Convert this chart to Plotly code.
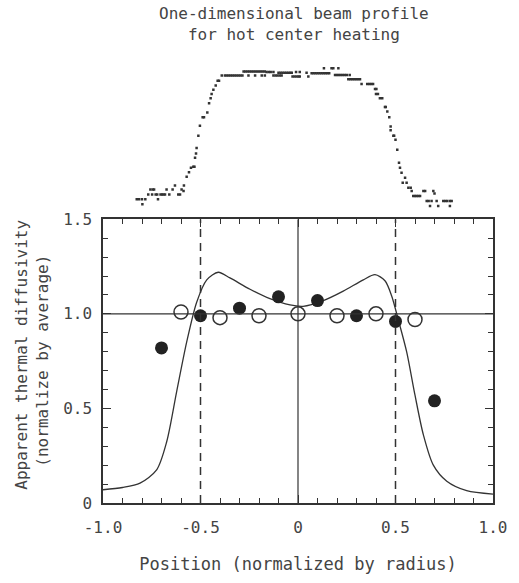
import plotly.graph_objects as go

# ---- data ----
CURVE_X = [-1.0, -0.9, -0.81, -0.725, -0.673, -0.622, -0.571, -0.52, -0.468, -0.409,
           -0.349, -0.246, -0.144, -0.041, 0.026, 0.13, 0.232, 0.335, 0.395, 0.446,
           0.48, 0.514, 0.557, 0.6, 0.643, 0.694, 0.763, 0.865, 1.0]
CURVE_Y = [0.07, 0.082, 0.105, 0.175, 0.325, 0.59, 0.85, 1.06, 1.18, 1.22,
           1.19, 1.13, 1.08, 1.047, 1.04, 1.07, 1.12, 1.18, 1.207, 1.175,
           1.096, 0.97, 0.8, 0.57, 0.36, 0.2, 0.115, 0.065, 0.047]

FILLED_X = [-0.7, -0.5, -0.3, -0.1, 0.1, 0.3, 0.5, 0.7]
FILLED_Y = [0.82, 0.99, 1.03, 1.09, 1.07, 0.99, 0.96, 0.54]

OPEN_X = [-0.6, -0.4, -0.2, 0.0, 0.2, 0.4, 0.6]
OPEN_Y = [1.01, 0.98, 0.99, 1.0, 0.99, 1.0, 0.97]

PROFILE_X = [
    -0.827, -0.815, -0.800, -0.783, -0.798, -0.768, -0.757, -0.745, -0.738, -0.748,
    -0.730, -0.722, -0.718, -0.705, -0.697, -0.690, -0.682, -0.674, -0.660, -0.643,
    -0.631, -0.614, -0.605, -0.597, -0.585, -0.587,
    -0.571, -0.559, -0.549, -0.537, -0.531, -0.528, -0.523, -0.520, -0.511, -0.503,
    -0.489, -0.482, -0.465, -0.456, -0.448, -0.443, -0.434, -0.422, -0.412, -0.405,
    -0.391,
    -0.375, -0.365, -0.355, -0.345, -0.335, -0.325, -0.315, -0.305, -0.295, -0.285,
    -0.254, -0.220, -0.186, -0.170, -0.126, -0.115, -0.105, -0.094, -0.084, -0.028,
    -0.018, -0.008, 0.002, 0.009, 0.053,
    -0.279, -0.270, -0.260, -0.250, -0.240, -0.230, -0.220, -0.210, -0.200, -0.190,
    -0.180, -0.170, -0.161, -0.150, -0.140, -0.126, -0.100, -0.090, -0.080, -0.070,
    -0.060, -0.050, -0.040, -0.032, -0.010, 0.009, 0.044,
    0.070, 0.080, 0.090, 0.100, 0.110, 0.120, 0.130, 0.140, 0.150, 0.160,
    0.133, 0.172, 0.181, 0.207,
    0.190, 0.200, 0.210, 0.220, 0.230, 0.240, 0.250, 0.265,
    0.258, 0.268, 0.278, 0.288, 0.298, 0.308, 0.318,
    0.326, 0.355, 0.365, 0.375, 0.385,
    0.395, 0.402, 0.400, 0.410, 0.420, 0.432, 0.446, 0.450, 0.458, 0.468,
    0.475, 0.475, 0.489, 0.493, 0.500, 0.509, 0.518, 0.523, 0.531, 0.549,
    0.537, 0.557, 0.566, 0.578,
    0.583, 0.643, 0.652, 0.694,
    0.591, 0.600, 0.608, 0.617, 0.626,
    0.660, 0.670, 0.685, 0.711, 0.745, 0.755, 0.765, 0.779, 0.788,
    0.700, 0.677, 0.719, 0.779,
]
PROFILE_I = [
    0.037, 0.037, 0.037, 0.037, 0.000, 0.074, 0.111, 0.111, 0.111, 0.074,
    0.074, 0.074, 0.037, 0.074, 0.074, 0.074, 0.074, 0.111, 0.074, 0.111,
    0.141, 0.074, 0.074, 0.111, 0.141, 0.100,
    0.205, 0.239, 0.272, 0.279, 0.279, 0.346, 0.378, 0.420, 0.511, 0.585,
    0.649, 0.649, 0.684, 0.753, 0.790, 0.822, 0.852, 0.884, 0.919, 0.919,
    0.958,
    0.958, 0.958, 0.958, 0.958, 0.958, 0.958, 0.958, 0.958, 0.958, 0.958,
    0.958, 0.958, 0.958, 0.958, 0.958, 0.958, 0.958, 0.958, 0.958, 0.952,
    0.952, 0.952, 0.952, 0.952, 0.952,
    0.988, 0.988, 0.988, 0.988, 0.988, 0.988, 0.988, 0.988, 0.988, 0.988,
    0.988, 0.988, 0.985, 0.985, 0.985, 0.985, 0.980, 0.980, 0.980, 0.980,
    0.980, 0.980, 0.980, 0.980, 0.985, 0.985, 0.980,
    0.975, 0.975, 0.975, 0.975, 0.975, 0.975, 0.975, 0.975, 0.975, 0.975,
    1.012, 1.012, 1.012, 1.012,
    0.963, 0.963, 0.963, 0.963, 0.963, 0.963, 0.963, 0.963,
    0.931, 0.931, 0.931, 0.931, 0.931, 0.931, 0.931,
    0.896, 0.896, 0.896, 0.896, 0.896,
    0.859, 0.859, 0.822, 0.822, 0.790, 0.790, 0.724, 0.724, 0.691, 0.649,
    0.580, 0.551, 0.511, 0.511, 0.481, 0.407, 0.309, 0.272, 0.235, 0.198,
    0.160, 0.160, 0.123, 0.123,
    0.099, 0.099, 0.099, 0.099,
    0.062, 0.062, 0.062, 0.062, 0.062,
    0.025, 0.025, 0.025, 0.025, 0.025, 0.025, 0.025, 0.025, 0.025,
    0.080, -0.012, -0.012, -0.012,
]

X_LABEL_ALIAS = {"−1.0": "-1.0", "−0.5": "-0.5", "0.0": "0", "-1.0": "-1.0", "-0.5": "-0.5"}
Y_LABEL_ALIAS = {"0.0": "0"}

TITLE = "One-dimensional beam profile<br>for hot center heating"
X_TITLE = "Position (normalized by radius)"
Y_TITLE_1 = "Apparent thermal diffusivity"
Y_TITLE_2 = "(normalize by average)"

INK = "#333333"
TXT = "#444444"
FONT = "DejaVu Sans Mono"

fig = go.Figure()

fig.add_trace(go.Scatter(x=CURVE_X, y=CURVE_Y, mode="lines",
                         line=dict(color=INK, width=1.3, shape="spline", smoothing=0.8),
                         showlegend=False, hoverinfo="skip"))
fig.add_trace(go.Scatter(x=FILLED_X, y=FILLED_Y, mode="markers",
                         marker=dict(size=13, color="#222222", line=dict(width=0)),
                         showlegend=False))
fig.add_trace(go.Scatter(x=OPEN_X, y=OPEN_Y, mode="markers",
                         marker=dict(size=14, color="white", line=dict(width=1.5, color=INK)),
                         showlegend=False))
fig.add_trace(go.Scatter(x=PROFILE_X, y=PROFILE_I, mode="markers", xaxis="x2", yaxis="y2",
                         marker=dict(size=2.5, symbol="square", color="#333333"),
                         showlegend=False))
# empty trace to carry the mirrored top/right tick axes
fig.add_trace(go.Scatter(x=[], y=[], xaxis="x3", yaxis="y3", showlegend=False,
                         hoverinfo="skip"))

fig.add_shape(type="line", xref="x", yref="y", x0=-1, x1=1, y0=1.0, y1=1.0,
              line=dict(color=INK, width=1.2))
fig.add_shape(type="line", xref="x", yref="y", x0=0, x1=0, y0=0, y1=1.5,
              line=dict(color=INK, width=1.2))
for xv in (-0.5, 0.5):
    fig.add_shape(type="line", xref="x", yref="y", x0=xv, x1=xv, y0=0, y1=1.5,
                  line=dict(color=INK, width=1.5, dash="8px,6px"))

W, H = 519, 583
L, R, T, B = 103, 26, 60, 78
ph = H - T - B

def pdom(py_top, py_bot):
    return [(H - B - py_bot) / ph, (H - B - py_top) / ph]

MAIN_DOM = pdom(220, 505)

def xax(**kw):
    d = dict(range=[-1, 1], tickmode="linear", tick0=-1, dtick=0.5, tickformat=".1f",
             labelalias=X_LABEL_ALIAS,
             ticks="inside", ticklen=8, tickwidth=1.2, tickcolor=INK,
             minor=dict(tickmode="linear", dtick=0.1, tick0=0, ticks="inside", ticklen=5,
                        tickwidth=1, tickcolor=INK, showgrid=False),
             showline=True, linecolor=INK, linewidth=1.5,
             showgrid=False, zeroline=False, domain=[0, 1],
             tickfont=dict(size=16, color=TXT), ticklabelstandoff=9)
    d.update(kw)
    return d

def yax(**kw):
    d = dict(range=[0, 1.5], tickmode="linear", tick0=0, dtick=0.5, tickformat=".1f",
             labelalias=Y_LABEL_ALIAS,
             ticks="inside", ticklen=8, tickwidth=1.2, tickcolor=INK,
             minor=dict(tickmode="linear", dtick=0.1, tick0=0, ticks="inside", ticklen=5,
                        tickwidth=1, tickcolor=INK, showgrid=False),
             showline=True, linecolor=INK, linewidth=1.5,
             showgrid=False, zeroline=False, domain=MAIN_DOM,
             tickfont=dict(size=16, color=TXT), ticklabelstandoff=6)
    d.update(kw)
    return d

fig.update_layout(
    width=W, height=H,
    margin=dict(l=L, r=R, t=T, b=B),
    paper_bgcolor="white", plot_bgcolor="white",
    font=dict(family=FONT, color=TXT, size=16),
    xaxis=xax(anchor="y",
              title=dict(text=X_TITLE, font=dict(size=17, color=TXT), standoff=22)),
    yaxis=yax(anchor="x"),
    xaxis3=xax(anchor="y3", overlaying="x", side="top", showticklabels=False),
    yaxis3=yax(anchor="x3", overlaying="y", side="right", showticklabels=False),
    xaxis2=dict(range=[-1, 1], visible=False, anchor="y2", domain=[0, 1]),
    yaxis2=dict(range=[-0.0741, 1.0741], visible=False, anchor="x2", domain=pdom(60, 215)),
)

fig.add_annotation(text=TITLE, xref="paper", yref="paper",
                   x=(294 - L) / 390, y=(H - B - 24) / ph, xanchor="center", yanchor="middle",
                   showarrow=False, font=dict(size=16, color=TXT, family=FONT))

fig.add_annotation(text=Y_TITLE_1, xref="paper", yref="paper",
                   x=(22 - L) / 390, y=(H - B - 356) / ph, textangle=-90,
                   xanchor="center", yanchor="middle", showarrow=False,
                   font=dict(size=16, color=TXT, family=FONT))
fig.add_annotation(text=Y_TITLE_2, xref="paper", yref="paper",
                   x=(43 - L) / 390, y=(H - B - 362) / ph, textangle=-90,
                   xanchor="center", yanchor="middle", showarrow=False,
                   font=dict(size=16, color=TXT, family=FONT))

fig.write_html("out.html")
